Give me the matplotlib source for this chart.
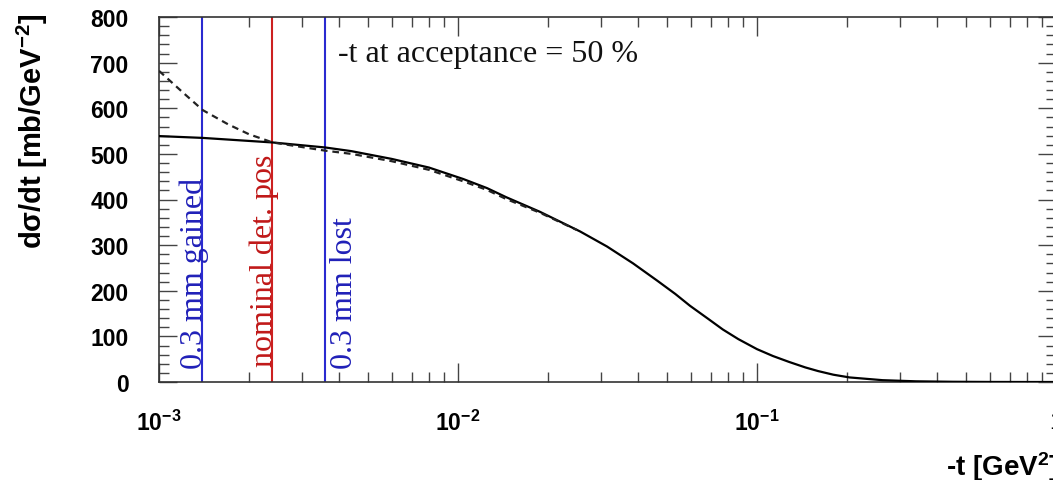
import numpy as np
import matplotlib
matplotlib.use("Agg")
import matplotlib.pyplot as plt
from matplotlib.ticker import FuncFormatter, LogLocator, MultipleLocator

plt.rcParams["mathtext.fontset"] = "custom"
plt.rcParams["mathtext.rm"] = "Liberation Sans:bold"
plt.rcParams["mathtext.default"] = "rm"
plt.rcParams["font.family"] = ["Liberation Sans", "DejaVu Sans"]

# Cross-section without Coulomb term (solid)
t_nuclear = [0.001, 0.0014, 0.0024, 0.0036, 0.0044, 0.006, 0.008, 0.0104,
             0.0125, 0.0145, 0.0188, 0.0256, 0.0315, 0.0385, 0.0464, 0.0533,
             0.0597, 0.0688, 0.0769, 0.0866, 0.1, 0.113, 0.128, 0.145, 0.16,
             0.18, 0.204, 0.263, 0.34, 0.45, 0.6, 0.8, 1.0]
dsdt_nuclear = [539, 535, 525, 514, 506, 489, 470, 445,
                425, 405, 373, 330, 297, 260, 222, 193,
                167, 138, 115, 94, 72, 57, 44, 32, 24,
                16, 10, 4, 1.5, 0.5, 0.1, 0, 0]

# Cross-section including Coulomb-nuclear interference (dashed)
t_total = [0.001, 0.0012, 0.0014, 0.0017, 0.002, 0.0024, 0.0036, 0.0044,
           0.006, 0.008, 0.0104, 0.0125, 0.0145, 0.0188, 0.025]
dsdt_total = [682, 635, 596, 565, 543, 525, 507, 500,
              484, 465, 440, 421, 401, 371, 333]

# Detector edge positions (-t at 50 % acceptance)
t_gained = 0.00139
t_nominal = 0.00239
t_lost = 0.00359

fig = plt.figure(figsize=(10.53, 4.81), dpi=100)
ax = fig.add_axes([159 / 1053, 98 / 481, 897 / 1053, 365 / 481])

ax.plot(t_nuclear, dsdt_nuclear, color="black", lw=1.6, zorder=3)
ax.plot(t_total, dsdt_total, color="#222222", lw=1.6, ls=(0, (3.0, 2.2)), zorder=3)

blue = "#2a2ad0"
red = "#cc2020"
ax.axvline(t_gained, color=blue, lw=1.5)
ax.axvline(t_nominal, color=red, lw=1.5)
ax.axvline(t_lost, color=blue, lw=1.5)

serif = ["Liberation Serif", "DejaVu Serif"]
ax.text(t_gained, 31, "0.3 mm gained", rotation=90, rotation_mode="anchor",
        ha="left", va="baseline", color="#2020b8", fontsize=23, family=serif)
ax.text(t_nominal, 36, "nominal det. pos", rotation=90, rotation_mode="anchor",
        ha="left", va="baseline", color="#c01818", fontsize=23, family=serif)
ax.text(0.00443, 31, "0.3 mm lost", rotation=90, rotation_mode="anchor",
        ha="left", va="baseline", color="#2020b8", fontsize=23, family=serif)
ax.text(0.00397, 703, "-t at acceptance = 50 %", ha="left", va="baseline",
        fontsize=23, family=serif, color="#111111")

ax.set_xscale("log")
ax.set_xlim(1e-3, 1.0)
ax.set_ylim(0, 800)

ax.yaxis.set_major_locator(MultipleLocator(100))
ax.yaxis.set_minor_locator(MultipleLocator(20))
ax.xaxis.set_major_locator(LogLocator(base=10, numticks=10))
ax.xaxis.set_minor_locator(LogLocator(base=10, subs=np.arange(2, 10), numticks=20))


def decade_label(v, _):
    e = int(round(np.log10(v)))
    if e == 0:
        return "1"
    return r"$10^{%d}$" % e


ax.xaxis.set_major_formatter(FuncFormatter(decade_label))
ax.xaxis.set_minor_formatter(FuncFormatter(lambda v, _: ""))

for side in ax.spines.values():
    side.set_color("#333333")
    side.set_linewidth(1.2)

ax.tick_params(axis="both", which="both", direction="in", top=True, right=True,
               color="#444444", width=1.0)
ax.tick_params(axis="x", which="major", length=14, pad=20, labelsize=16.5)
ax.tick_params(axis="x", which="minor", length=7)
ax.tick_params(axis="y", which="major", length=13, pad=22, labelsize=16.5)
ax.tick_params(axis="y", which="minor", length=7)
for lab in ax.get_yticklabels():
    lab.set_fontweight("bold")

ax.set_ylabel(r"d$\sigma$/dt [mb/GeV$^{-2}$]", fontsize=21, fontweight="bold",
              loc="top")
ax.yaxis.set_label_coords(-0.121, 1.012)
ax.set_xlabel(r"-t [GeV$^{2}$]", fontsize=20, fontweight="bold", loc="right")
ax.xaxis.set_label_coords(1.003, -0.185)

fig.savefig("out.png", dpi=100)
